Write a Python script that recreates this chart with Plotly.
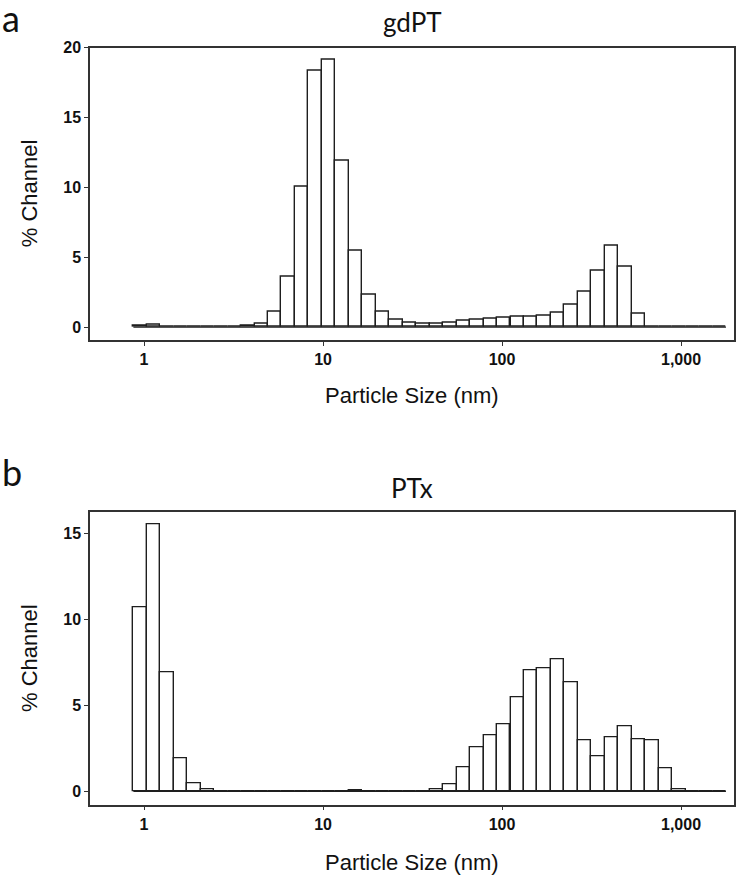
import plotly.graph_objects as go

# Channel (bin centre) sizes in nm, quarter-octave spacing
channels = [0.951, 1.131, 1.345, 1.6, 1.9, 2.26, 2.69, 3.2, 3.8, 4.52, 5.37, 6.39,
            7.6, 9.03, 10.74, 12.77, 15.19, 18.06, 21.48, 25.55, 30.38, 36.13,
            42.97, 51.1, 60.77, 72.27, 85.94, 102.2, 121.6, 144.6, 171.9, 204.4,
            243.1, 289.1, 343.8, 408.8, 486.2, 578.2, 687.5, 817.6, 972.3, 1156,
            1375, 1635]

gdpt_values = [0.10, 0.19, 0.05, 0, 0, 0, 0, 0, 0.07, 0.28, 1.10, 3.64,
               10.07, 18.37, 19.13, 11.90, 5.44, 2.29, 1.09, 0.55, 0.35, 0.24,
               0.24, 0.33, 0.43, 0.54, 0.64, 0.69, 0.73, 0.73, 0.83, 1.04,
               1.61, 2.55, 4.07, 5.86, 4.35, 0.95, 0, 0, 0, 0,
               0, 0]

ptx_values = [10.73, 15.54, 6.90, 1.92, 0.44, 0.12, 0, 0, 0, 0, 0, 0,
              0, 0, 0, 0, 0.03, 0, 0, 0, 0, 0,
              0.10, 0.40, 1.38, 2.58, 3.23, 3.88, 5.50, 7.02, 7.15, 7.67,
              6.35, 2.98, 2.06, 3.15, 3.77, 3.04, 2.98, 1.35, 0.13, 0,
              0, 0]

x_tickvals = [1, 10, 100, 1000]
x_ticktext = ["1", "10", "100", "1,000"]
top_yticks = [0, 5, 10, 15, 20]
bottom_yticks = [0, 5, 10, 15]

titles = ["gdPT", "PTx"]
panel_labels = ["a", "b"]

# bin edges from the quarter-octave channel spacing
half_step = 2 ** (1 / 8)
lower = [c / half_step for c in channels]
upper = [c * half_step for c in channels]
offsets = [lo - c for lo, c in zip(lower, channels)]
widths = [up - lo for lo, up in zip(lower, upper)]

W, H = 736, 875
LINE = "#333333"
BAR_LINE = "#1e1e1e"

fig = go.Figure()

for i, vals in enumerate([gdpt_values, ptx_values]):
    xa = "x" if i == 0 else "x2"
    ya = "y" if i == 0 else "y2"
    fig.add_trace(go.Scatter(
        x=[lower[0], upper[-1]], y=[0, 0], mode="lines",
        line=dict(color=BAR_LINE, width=1.4), xaxis=xa, yaxis=ya,
        showlegend=False, hoverinfo="skip"))
    fig.add_trace(go.Bar(
        x=channels, y=vals, offset=offsets, width=widths,
        marker=dict(color="white", line=dict(color=BAR_LINE, width=1.4)),
        xaxis=xa, yaxis=ya, showlegend=False))

def px_x(p):
    return p / W

def px_y(p):
    return 1 - p / H

x_dom = [px_x(90), px_x(734)]
top_dom = [px_y(335), px_y(40)]
bot_dom = [px_y(804), px_y(509)]

tick_font = dict(family="Liberation Sans, Arial", size=16, color="#111111", weight="bold")
xcommon = dict(type="log", range=[-0.302, 3.296], tickvals=x_tickvals,
               ticktext=x_ticktext, ticks="outside", ticklen=4, tickwidth=1.2,
               tickcolor=LINE, showline=True, linecolor=LINE, linewidth=1.5,
               mirror=True, showgrid=False, zeroline=False, tickfont=tick_font)
ycommon = dict(ticks="outside", ticklen=4, tickwidth=1.2, tickcolor=LINE,
               showline=True, linecolor=LINE, linewidth=1.5, mirror=True,
               showgrid=False, zeroline=False, tickfont=tick_font)

fig.update_layout(
    width=W, height=H,
    margin=dict(l=0, r=0, t=0, b=0),
    paper_bgcolor="white", plot_bgcolor="white",
    bargap=0,
    xaxis=dict(domain=x_dom, anchor="y", **xcommon),
    yaxis=dict(domain=top_dom, anchor="x", range=[-0.92, 20],
               tickvals=top_yticks, **ycommon),
    xaxis2=dict(domain=x_dom, anchor="y2", **xcommon),
    yaxis2=dict(domain=bot_dom, anchor="x2", range=[-0.78, 16.25],
                tickvals=bottom_yticks, **ycommon),
)

ann = []
title_font = dict(family="Lato, Open Sans", size=26, color="#111111")
axis_font = dict(family="Liberation Sans, Arial", size=22, color="#111111")
label_font = dict(family="Lato, Open Sans", size=36, color="#111111")
for title, ty in zip(titles, [14, 484]):
    ann.append(dict(text=title, x=px_x(412), y=px_y(ty), xref="paper", yref="paper",
                    xanchor="center", yanchor="middle", showarrow=False, font=title_font))
for lab, ly in zip(panel_labels, [10, 468]):
    ann.append(dict(text=lab, x=px_x(0), y=px_y(ly), xref="paper", yref="paper",
                    xanchor="left", yanchor="middle", showarrow=False, font=label_font))
for cy in [187, 656]:
    ann.append(dict(text="% Channel", x=px_x(29), y=px_y(cy), xref="paper", yref="paper",
                    xanchor="center", yanchor="middle", textangle=-90,
                    showarrow=False, font=axis_font))
for cy in [391, 862]:
    ann.append(dict(text="Particle Size (nm)", x=px_x(412), y=px_y(cy), xref="paper",
                    yref="paper", xanchor="center", yanchor="middle",
                    showarrow=False, font=axis_font))
fig.update_layout(annotations=ann)

fig.write_html("out.html", config={"displayModeBar": False},
               post_script="document.body.style.margin='0';document.body.style.overflow='hidden';")
